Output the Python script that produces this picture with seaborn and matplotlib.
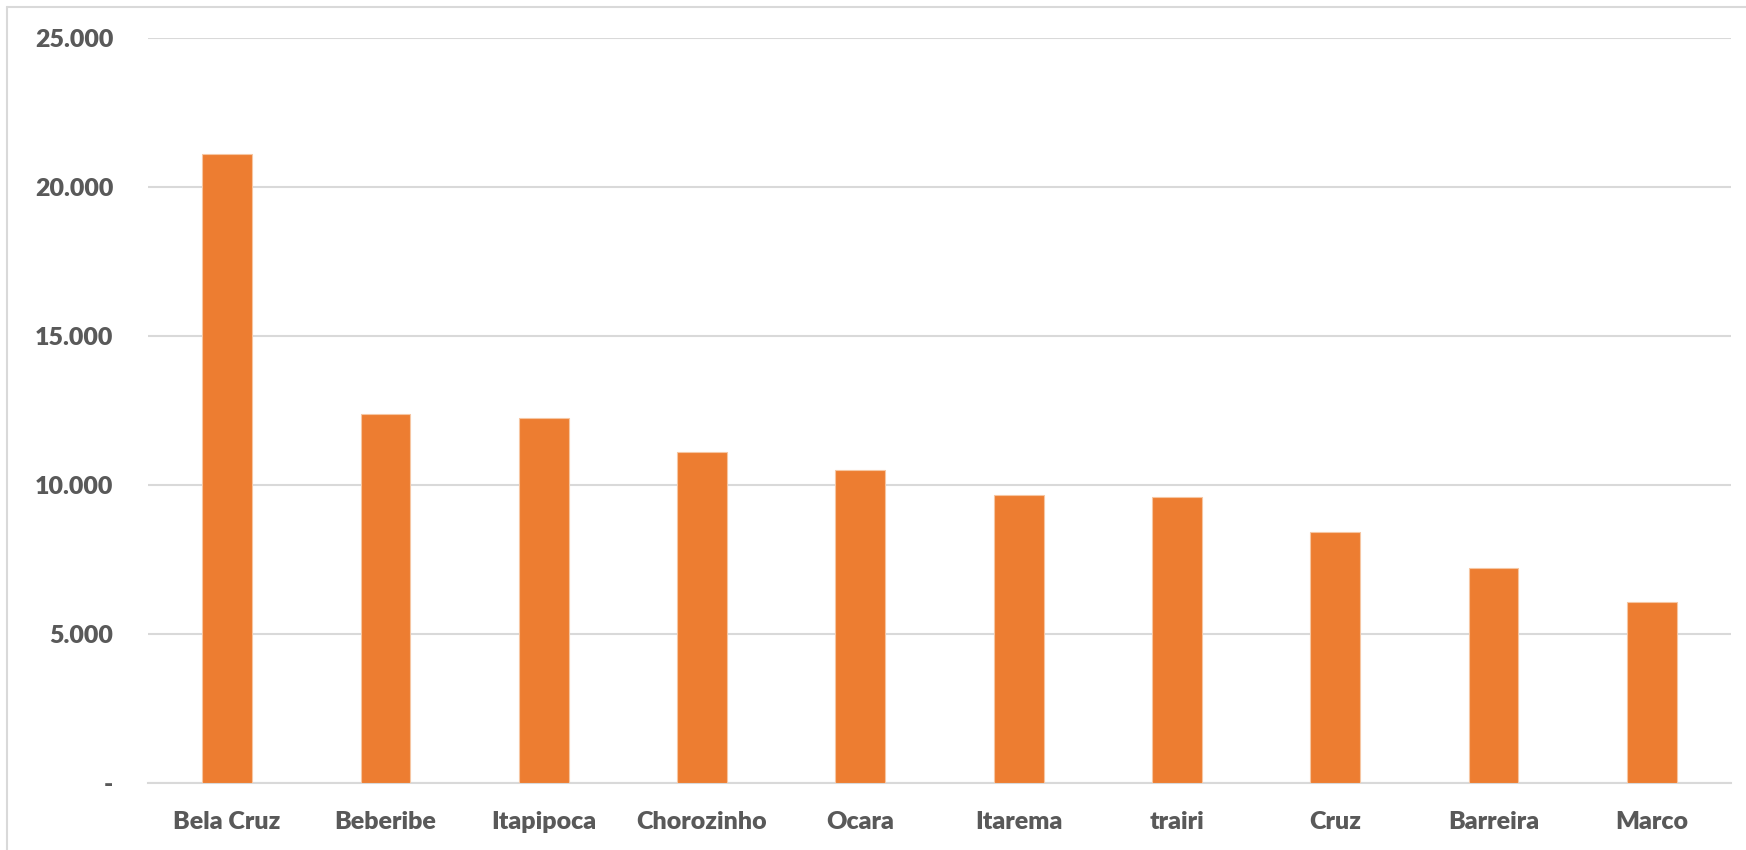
import matplotlib
matplotlib.use("Agg")
import matplotlib.pyplot as plt
import seaborn as sns
import pandas as pd
from matplotlib.ticker import FuncFormatter, MultipleLocator
from matplotlib.lines import Line2D

municipios = ["Bela Cruz", "Beberibe", "Itapipoca", "Chorozinho", "Ocara",
              "Itarema", "trairi", "Cruz", "Barreira", "Marco"]
valores = [21100, 12370, 12260, 11110, 10495, 9665, 9600, 8425, 7205, 6065]

df = pd.DataFrame({"municipio": municipios, "valor": valores})

sns.set_theme(style="white")
plt.rcParams["font.family"] = ["Lato", "DejaVu Sans"]

fig = plt.figure(figsize=(17.46, 8.5), dpi=100)
ax = fig.add_axes([148 / 1746, 1 - 783 / 850, (1731 - 148) / 1746, (783 - 38) / 850])

sns.barplot(data=df, x="municipio", y="valor", ax=ax, color="#ED7D31",
            saturation=1, width=0.314, edgecolor="#F6C6A2", linewidth=0.8, zorder=3)

ax.set_ylim(0, 25000)
ax.set_xlim(-0.5, len(municipios) - 0.5)
ax.yaxis.set_major_locator(MultipleLocator(5000))


def fmt(v, pos):
    if abs(v) < 1e-9:
        return "-"
    return f"{int(round(v)):,}".replace(",", ".")


ax.yaxis.set_major_formatter(FuncFormatter(fmt))
ax.grid(axis="y", color="#D9D9D9", linewidth=1.5, zorder=0)
ax.set_axisbelow(True)
for s in ["top", "right", "left"]:
    ax.spines[s].set_visible(False)
ax.spines["bottom"].set_color("#D9D9D9")
ax.spines["bottom"].set_linewidth(1.5)
ax.set_xlabel("")
ax.set_ylabel("")
ax.tick_params(axis="both", length=0, labelsize=18, labelcolor="#595959")
ax.tick_params(axis="y", pad=25)
ax.tick_params(axis="x", pad=20)
for lab in ax.get_xticklabels() + ax.get_yticklabels():
    lab.set_fontweight("heavy")

# outer chart frame (top and left visible)
fig.add_artist(Line2D([7 / 1746, 1.0], [1 - 7 / 850, 1 - 7 / 850],
                      transform=fig.transFigure, color="#D9D9D9", linewidth=1.5))
fig.add_artist(Line2D([7 / 1746, 7 / 1746], [0.0, 1 - 7 / 850],
                      transform=fig.transFigure, color="#D9D9D9", linewidth=1.5))

fig.savefig("out.png", dpi=100, facecolor="white")
